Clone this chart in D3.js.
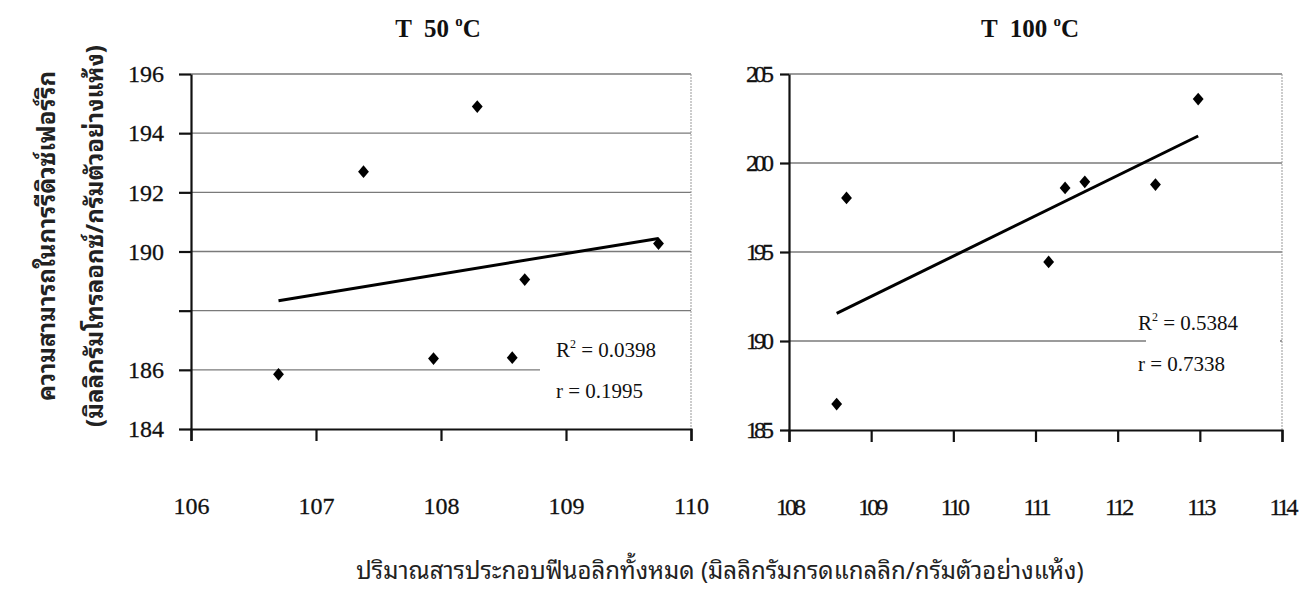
<!DOCTYPE html>
<html>
<head>
<meta charset="utf-8">
<script src="https://cdn.jsdelivr.net/npm/d3@7"></script>
<style>
  body { margin: 0; background: #fff; }
  text { font-family: "Liberation Serif", "Times New Roman", serif; }
  .thai { font-family: "Noto Sans Thai Looped", "Noto Serif Thai", "Garuda", "Loma", "Tahoma", "Noto Sans Thai", "Noto Sans", "DejaVu Sans", sans-serif; }
</style>
</head>
<body>
<div id="chart"></div>
<script>
// ---- data ----
var titles = ["T  50", "T  100"];

var x50 = [106.70, 107.38, 107.94, 108.29, 108.57, 108.67, 109.74];
var y50 = [185.85, 192.70, 186.38, 194.90, 186.41, 189.05, 190.27];

var x100 = [108.58, 108.70, 111.16, 111.36, 111.60, 112.46, 112.98];
var y100 = [186.46, 198.04, 194.44, 198.60, 198.94, 198.79, 203.59];

var xTicks50 = [106, 107, 108, 109, 110];
var yTicks50 = [184, 186, 188, 190, 192, 194, 196];
var yLabels50 = ["184", "186", "", "190", "192", "194", "196"];

var xTicks100 = [108, 109, 110, 111, 112, 113, 114];
var yTicks100 = [185, 190, 195, 200, 205];

var r2Text = ["0.0398", "0.5384"];
var rText = ["0.1995", "0.7338"];

var yTitle = ["ความสามารถในการรีดิวซ์เฟอร์ริก", "(มิลลิกรัมโทรลอกซ์/กรัมตัวอย่างแห้ง)"];
var xTitle = "ปริมาณสารประกอบฟีนอลิกทั้งหมด (มิลลิกรัมกรดแกลลิก/กรัมตัวอย่างแห้ง)";

var W = 1306, H = 589;

var svg = d3.select("#chart").append("svg")
    .attr("width", W)
    .attr("height", H);

// panel boxes
var panels = [
    {
        xs: x50, ys: y50, xTicks: xTicks50, yTicks: yTicks50, yLabels: yLabels50,
        left: 191, right: 691, top: 74, bottom: 429, yTickLen: 12,
        title: titles[0], titleX: 438,
        r2: r2Text[0], r: rText[0], noteX: 556, noteY: 357, noteBox: [540, 330, 150, 80],
        condensed: false
    },
    {
        xs: x100, ys: y100, xTicks: xTicks100, yTicks: yTicks100, yLabels: yTicks100.map(String),
        left: 789, right: 1282, top: 74, bottom: 430, yTickLen: 9,
        title: titles[1], titleX: 1030,
        r2: r2Text[1], r: rText[1], noteX: 1138, noteY: 330, noteBox: [1146, 303, 134, 75],
        condensed: true
    }
];

panels.forEach(function(p) {
    var x = d3.scaleLinear()
        .domain(d3.extent(p.xTicks))
        .range([p.left, p.right]);
    var y = d3.scaleLinear()
        .domain(d3.extent(p.yTicks))
        .range([p.bottom, p.top]);

    var g = svg.append("g");

    // gridlines
    g.selectAll(".grid")
        .data(p.yTicks.slice(1))
        .enter()
        .append("line")
        .attr("x1", p.left)
        .attr("x2", p.right)
        .attr("y1", d => y(d))
        .attr("y2", d => y(d))
        .attr("stroke", "#7a7a7a")
        .attr("stroke-width", 1.4);

    // right border, dotted
    g.append("line")
        .attr("x1", p.right).attr("x2", p.right)
        .attr("y1", p.top).attr("y2", p.bottom)
        .attr("stroke", "#999")
        .attr("stroke-width", 1)
        .attr("stroke-dasharray", "2,1");

    // white box behind the R2 / r notes
    g.append("rect")
        .attr("x", p.noteBox[0]).attr("y", p.noteBox[1])
        .attr("width", p.noteBox[2]).attr("height", p.noteBox[3])
        .attr("fill", "#fff");

    // x axis
    var xAxis = g.append("g")
        .attr("transform", "translate(0," + p.bottom + ")")
        .call(d3.axisBottom(x).tickValues(p.xTicks).tickSize(12).tickSizeOuter(12).tickPadding(56).tickFormat(d3.format("d")));

    // y axis
    var yAxis = g.append("g")
        .attr("transform", "translate(" + p.left + ",0)")
        .call(d3.axisLeft(y).tickValues(p.yTicks).tickSize(p.yTickLen).tickSizeOuter(0).tickPadding(p.condensed ? 10 : 15)
            .tickFormat((d, i) => p.yLabels[i]));

    [xAxis, yAxis].forEach(function(a) {
        a.attr("font-family", "Liberation Serif, serif");
        a.select(".domain").attr("stroke", "#111").attr("stroke-width", 2.2);
        a.selectAll(".tick line").attr("stroke", "#111").attr("stroke-width", 2.2);
        a.selectAll(".tick text")
            .attr("fill", "#111")
            .style("font-family", "'Liberation Serif', 'Times New Roman', serif")
            .style("font-size", "24px")
            .attr("stroke", "#111")
            .attr("stroke-width", 0.3);
    });
    if (p.condensed) {
        g.selectAll(".tick text").style("letter-spacing", "-3px");
        yAxis.selectAll(".tick text").style("letter-spacing", "-4px");
    }

    // trend line from least squares
    var mx = d3.mean(p.xs), my = d3.mean(p.ys);
    var sxy = d3.sum(p.xs, (v, i) => (v - mx) * (p.ys[i] - my));
    var sxx = d3.sum(p.xs, v => (v - mx) * (v - mx));
    var slope = sxy / sxx, icpt = my - slope * mx;
    var ends = d3.extent(p.xs);
    g.append("path")
        .datum(ends)
        .attr("fill", "none")
        .attr("stroke", "#000")
        .attr("stroke-width", 3)
        .attr("d", d3.line().x(d => x(d)).y(d => y(icpt + slope * d)));

    // points
    g.selectAll(".pt")
        .data(p.xs)
        .enter()
        .append("path")
        .attr("d", d3.symbol().type(d3.symbolSquare).size(81))
        .attr("transform", (d, i) => "translate(" + x(d) + "," + y(p.ys[i]) + ") scale(0.85,1) rotate(45)")
        .attr("fill", "#000");

    // notes
    var note = g.append("text")
        .attr("x", p.noteX)
        .attr("y", p.noteY)
        .style("font-size", "21px")
        .attr("fill", "#111");
    note.append("tspan").text("R");
    note.append("tspan").attr("dy", -9).style("font-size", "12px").text("2");
    note.append("tspan").attr("dy", 9).text(" = " + p.r2);
    g.append("text")
        .attr("x", p.noteX)
        .attr("y", p.noteY + 41)
        .style("font-size", "21px")
        .attr("fill", "#111")
        .text("r = " + p.r);

    // title
    var t = g.append("text")
        .attr("x", p.titleX)
        .attr("y", 37)
        .attr("text-anchor", "middle")
        .style("font-size", "25px")
        .style("font-weight", "bold")
        .attr("fill", "#111")
        .attr("xml:space", "preserve");
    t.append("tspan").text(p.title + " ");
    t.append("tspan").attr("dy", -11).style("font-size", "15px").text("o");
    t.append("tspan").attr("dy", 11).text("C");
});

// y title, two lines
svg.selectAll(".ytitle")
    .data(yTitle)
    .enter()
    .append("text")
    .attr("class", "thai")
    .attr("transform", (d, i) => "translate(" + (55 + i * 48) + ",236) rotate(-90)")
    .attr("text-anchor", "middle")
    .style("font-size", "24px")
    .style("font-weight", "bold")
    .attr("fill", "#222")
    .text(d => d);

// x title
svg.append("text")
    .attr("class", "thai")
    .attr("x", 720)
    .attr("y", 579)
    .attr("text-anchor", "middle")
    .style("font-size", "24px")
    .attr("fill", "#222")
    .text(xTitle);
</script>
</body>
</html>
